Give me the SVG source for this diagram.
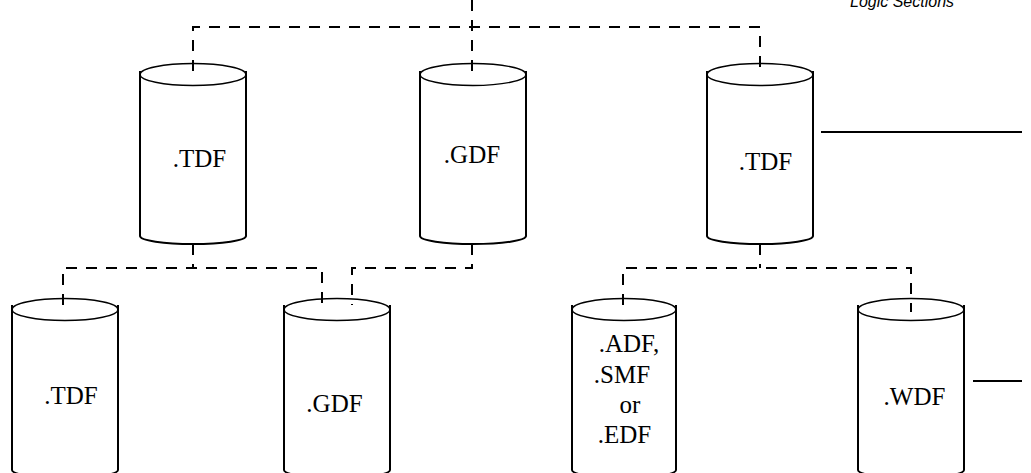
<svg xmlns="http://www.w3.org/2000/svg" width="1031" height="473" viewBox="0 0 1031 473">
<style>
.side{fill:none;stroke:#000;stroke-width:2}
.top{fill:none;stroke:#000;stroke-width:1.4}
.lbl{font-family:"Liberation Serif","Times New Roman",serif;font-size:25px;fill:#000;text-anchor:middle}
.dash{fill:none;stroke:#000;stroke-width:2;stroke-dasharray:11 9}
.solid{fill:none;stroke:#000;stroke-width:2}
.note{font-family:"Liberation Sans",Arial,sans-serif;font-style:italic;font-size:16px;fill:#000}
</style>
<rect width="1031" height="473" fill="#fff"/>
<text class="note" x="850" y="7">Logic Sections</text>
<g id="n-tdf1">
<path class="side" d="M140,71 V236 A53,8 0 0 0 246,236 V71"/>
<ellipse class="top" cx="193" cy="74.5" rx="53" ry="11"/>
<text class="lbl" x="199.5" y="167">.TDF</text>
</g>
<g id="n-gdf1">
<path class="side" d="M420,71 V236 A53,8 0 0 0 526,236 V71"/>
<ellipse class="top" cx="473" cy="74.5" rx="53" ry="11"/>
<text class="lbl" x="472" y="163">.GDF</text>
</g>
<g id="n-tdf2">
<path class="side" d="M707,71 V236 A53,8 0 0 0 813,236 V71"/>
<ellipse class="top" cx="760" cy="74.5" rx="53" ry="11"/>
<text class="lbl" x="765.5" y="170">.TDF</text>
</g>
<g id="n-tdf3">
<path class="side" d="M12,305 V470 A53,8 0 0 0 118,470 V305"/>
<ellipse class="top" cx="65" cy="309.5" rx="53" ry="11"/>
<text class="lbl" x="71" y="404">.TDF</text>
</g>
<g id="n-gdf2">
<path class="side" d="M284,305 V470 A53,8 0 0 0 390,470 V305"/>
<ellipse class="top" cx="337" cy="309.5" rx="53" ry="11"/>
<text class="lbl" x="334.5" y="412">.GDF</text>
</g>
<g id="n-adf">
<path class="side" d="M572,305 V470 A52,8 0 0 0 676,470 V305"/>
<ellipse class="top" cx="624" cy="309.5" rx="52" ry="11"/>
<text class="lbl" x="629" y="352">.ADF,</text>
<text class="lbl" x="622" y="383">.SMF</text>
<text class="lbl" x="630" y="413">or</text>
<text class="lbl" x="624.5" y="443">.EDF</text>
</g>
<g id="n-wdf">
<path class="side" d="M858,305 V470 A53,8 0 0 0 964,470 V305"/>
<ellipse class="top" cx="911" cy="309.5" rx="53" ry="11"/>
<text class="lbl" x="914.5" y="405">.WDF</text>
</g>
<g id="connectors">
<path class="dash" d="M472,0 V71"/>
<path class="dash" d="M193,71 V27 H760 V71"/>
<path class="dash" d="M193,244 V268"/>
<path class="dash" d="M63,305 V268 H322 V305"/>
<path class="dash" d="M472,244 V268 H352 V305"/>
<path class="dash" d="M760,244 V268"/>
<path class="dash" d="M623,305 V268 H911 V312"/>
<path class="solid" d="M821,132 H1022"/>
<path class="solid" d="M973,381 H1022"/>
</g>
</svg>
